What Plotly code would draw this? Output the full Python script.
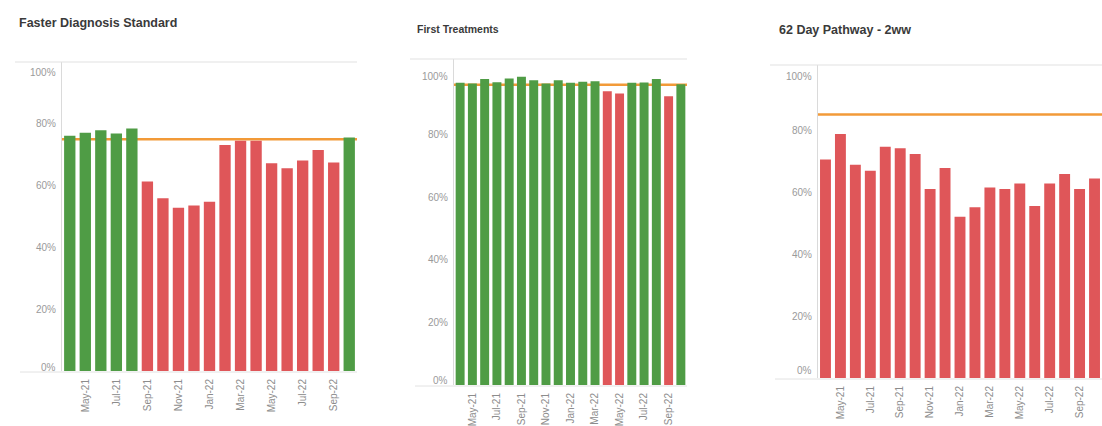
import plotly.graph_objects as go

W, H = 1102, 426

# Monthly periods shared by all three panels
months = ["Apr-21", "May-21", "Jun-21", "Jul-21", "Aug-21", "Sep-21", "Oct-21",
          "Nov-21", "Dec-21", "Jan-22", "Feb-22", "Mar-22", "Apr-22", "May-22",
          "Jun-22", "Jul-22", "Aug-22", "Sep-22", "Oct-22"]
month_ticks = months[1::2]

# Performance (%) per month
fds_values = [76.1, 77.1, 77.9, 76.9, 78.5, 61.3, 55.9, 52.8, 53.6, 54.8,
              73.1, 74.5, 74.5, 67.2, 65.6, 68.1, 71.5, 67.5, 75.6]
first_treat_values = [96.6, 96.4, 97.8, 96.8, 98.0, 98.5, 97.4, 96.4, 97.4, 96.6,
                      96.9, 97.1, 93.9, 93.2, 96.6, 96.7, 97.8, 92.3, 96.1]
pathway62_values = [70.5, 78.7, 68.8, 66.9, 74.6, 74.1, 72.3, 61.0, 67.8, 52.0,
                    55.1, 61.5, 61.0, 62.8, 55.5, 62.8, 65.8, 61.0, 64.4]

# Operational standards (%)
fds_target = 75
first_treat_target = 96
pathway62_target = 85

titles = ["Faster Diagnosis Standard", "First Treatments", "62 Day Pathway - 2ww"]
y_tick_values = [0, 20, 40, 60, 80, 100]
y_tick_labels = ["0%", "20%", "40%", "60%", "80%", "100%"]

GREEN = "#4F9C45"
RED = "#DF5659"
ORANGE = "#F29A38"
FONT = "Liberation Sans, Arial, sans-serif"


def px(x):
    return x / W


def py(y):
    return 1 - y / H


# Panel geometry in pixels: pane left/right, pane bottom/top, y-axis max
panels = [
    dict(values=fds_values, target=fds_target, x0=62, x1=357, ybot=371, ytop=62,
         ymax=100, border_left=15, label_shift=(-4, 10), title_xy=(17, 23),
         title_size=12.5, gap=0.26),
    dict(values=first_treat_values, target=first_treat_target, x0=454, x1=687,
         ybot=385, ytop=59, ymax=104.2, border_left=410, label_shift=(-5, 4),
         title_xy=(415, 29), title_size=10.5, gap=0.27),
    dict(values=pathway62_values, target=pathway62_target, x0=818, x1=1102,
         ybot=378, ytop=65, ymax=101, border_left=770, label_shift=(-8, 8),
         title_xy=(777, 30), title_size=12.5, gap=0.29),
]

fig = go.Figure()
shapes = []
annotations = []

for i, p in enumerate(panels, start=1):
    sfx = "" if i == 1 else str(i)
    colors = [GREEN if v >= p["target"] else RED for v in p["values"]]
    fig.add_trace(go.Bar(
        x=months, y=p["values"], marker=dict(color=colors, line=dict(width=0)),
        xaxis="x" + sfx, yaxis="y" + sfx, showlegend=False,
        hovertemplate="%{x}: %{y:.1f}%<extra></extra>",
    ))

    fig.update_layout({
        "xaxis" + sfx: dict(
            domain=[px(p["x0"]), min(px(p["x1"]), 1.0)], anchor="y" + sfx,
            type="category", range=[-0.5, len(months) - 0.5],
            tickmode="array", tickvals=month_ticks, ticktext=month_ticks,
            tickangle=-90, ticks="", showgrid=False, showline=False,
            zeroline=False, tickfont=dict(size=10, color="#8c8c8c", family=FONT),
            ticklabelstandoff=5,
        ),
        "yaxis" + sfx: dict(
            domain=[py(p["ybot"]), py(p["ytop"])], anchor="x" + sfx,
            range=[0, p["ymax"]], showticklabels=False, ticks="",
            showgrid=False, zeroline=False, showline=True,
            linecolor="#dadada", linewidth=1,
        ),
    })

    # Standard reference line, drawn behind the bars
    shapes.append(dict(
        type="line", xref=("x" + sfx + " domain"), yref="y" + sfx,
        x0=0, x1=1, y0=p["target"], y1=p["target"],
        line=dict(color=ORANGE, width=2.5), layer="below",
    ))
    # Pane top border and baseline
    shapes.append(dict(
        type="line", xref="paper", yref="paper",
        x0=px(p["border_left"]), x1=min(px(p["x1"]), 1.0),
        y0=py(p["ytop"]), y1=py(p["ytop"]),
        line=dict(color="#e2e2e2", width=1.2),
    ))
    shapes.append(dict(
        type="line", xref="paper", yref="paper",
        x0=px(p["border_left"] + 5), x1=min(px(p["x1"]), 1.0),
        y0=py(p["ybot"] + 1), y1=py(p["ybot"] + 1),
        line=dict(color="#e2e2e2", width=1),
    ))

    # Y-axis labels; the end labels are nudged inside the pane
    bottom_shift, top_shift = p["label_shift"]
    for v, lab in zip(y_tick_values, y_tick_labels):
        shift = 0
        if v == 0:
            shift = -bottom_shift
        elif v == 100:
            shift = -top_shift
        annotations.append(dict(
            text=lab, xref="x" + sfx + " domain", yref="y" + sfx,
            x=0, y=v, xanchor="right", yanchor="middle", xshift=-4,
            yshift=shift, showarrow=False,
            font=dict(size=10, color="#9a9a9a", family=FONT),
        ))

    tx, ty = p["title_xy"]
    annotations.append(dict(
        text="<b>" + titles[i - 1] + "</b>", xref="paper", yref="paper",
        x=px(tx), y=py(ty), xanchor="left", yanchor="middle", showarrow=False,
        font=dict(size=p["title_size"], color="#3a3a3a", family=FONT),
    ))

fig.update_layout(
    width=W, height=H, margin=dict(l=0, r=0, t=0, b=0),
    paper_bgcolor="white", plot_bgcolor="white",
    bargap=0.27, shapes=shapes, annotations=annotations,
    font=dict(family=FONT),
)

fig.write_html("out.html")
